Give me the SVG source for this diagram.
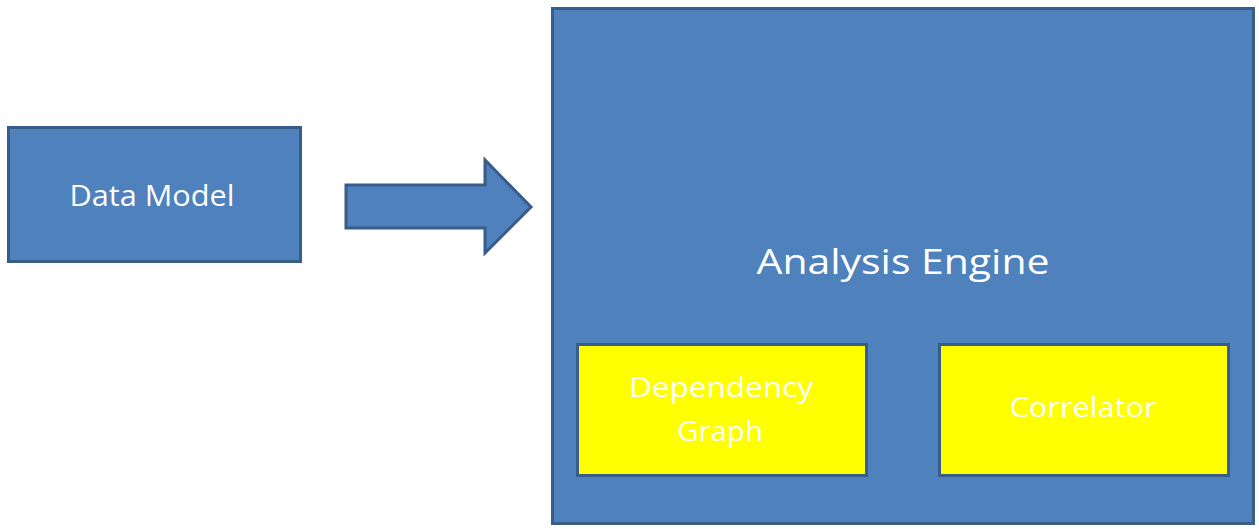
<svg xmlns="http://www.w3.org/2000/svg" width="1259" height="529" viewBox="0 0 1259 529">
<style>
.blue{fill:#4F81BD;stroke:#385D8A;stroke-width:3}
.yellow{fill:#FFFF00;stroke:#385D8A;stroke-width:3}
.t{font-family:"Open Sans","Liberation Sans",sans-serif;fill:#FFFFFF;text-anchor:middle}
</style>
<rect width="1259" height="529" fill="#FFFFFF"/>
<g id="engine">
<rect class="blue" x="552.5" y="8.5" width="701" height="515"/>
<text class="t" x="903" y="274" font-size="34" textLength="293" lengthAdjust="spacingAndGlyphs">Analysis Engine</text>
</g>
<g id="datamodel">
<rect class="blue" x="8.5" y="127.5" width="292" height="134"/>
<text class="t" x="152" y="206" font-size="30" textLength="165" lengthAdjust="spacingAndGlyphs">Data Model</text>
</g>
<g id="depgraph">
<rect class="yellow" x="577.5" y="344.5" width="289" height="131"/>
<text class="t" x="721" y="397" font-size="28" textLength="184" lengthAdjust="spacingAndGlyphs">Dependency</text>
<text class="t" x="720" y="441" font-size="28" textLength="86" lengthAdjust="spacingAndGlyphs">Graph</text>
</g>
<g id="correlator">
<rect class="yellow" x="939.5" y="344.5" width="289" height="131"/>
<text class="t" x="1083" y="417" font-size="28" textLength="147" lengthAdjust="spacingAndGlyphs">Correlator</text>
</g>
<g id="connectors">
<path class="blue" d="M346 185 L485 185 L485 160 L531 207 L485 253 L485 228 L346 228 Z"/>
</g>
</svg>
